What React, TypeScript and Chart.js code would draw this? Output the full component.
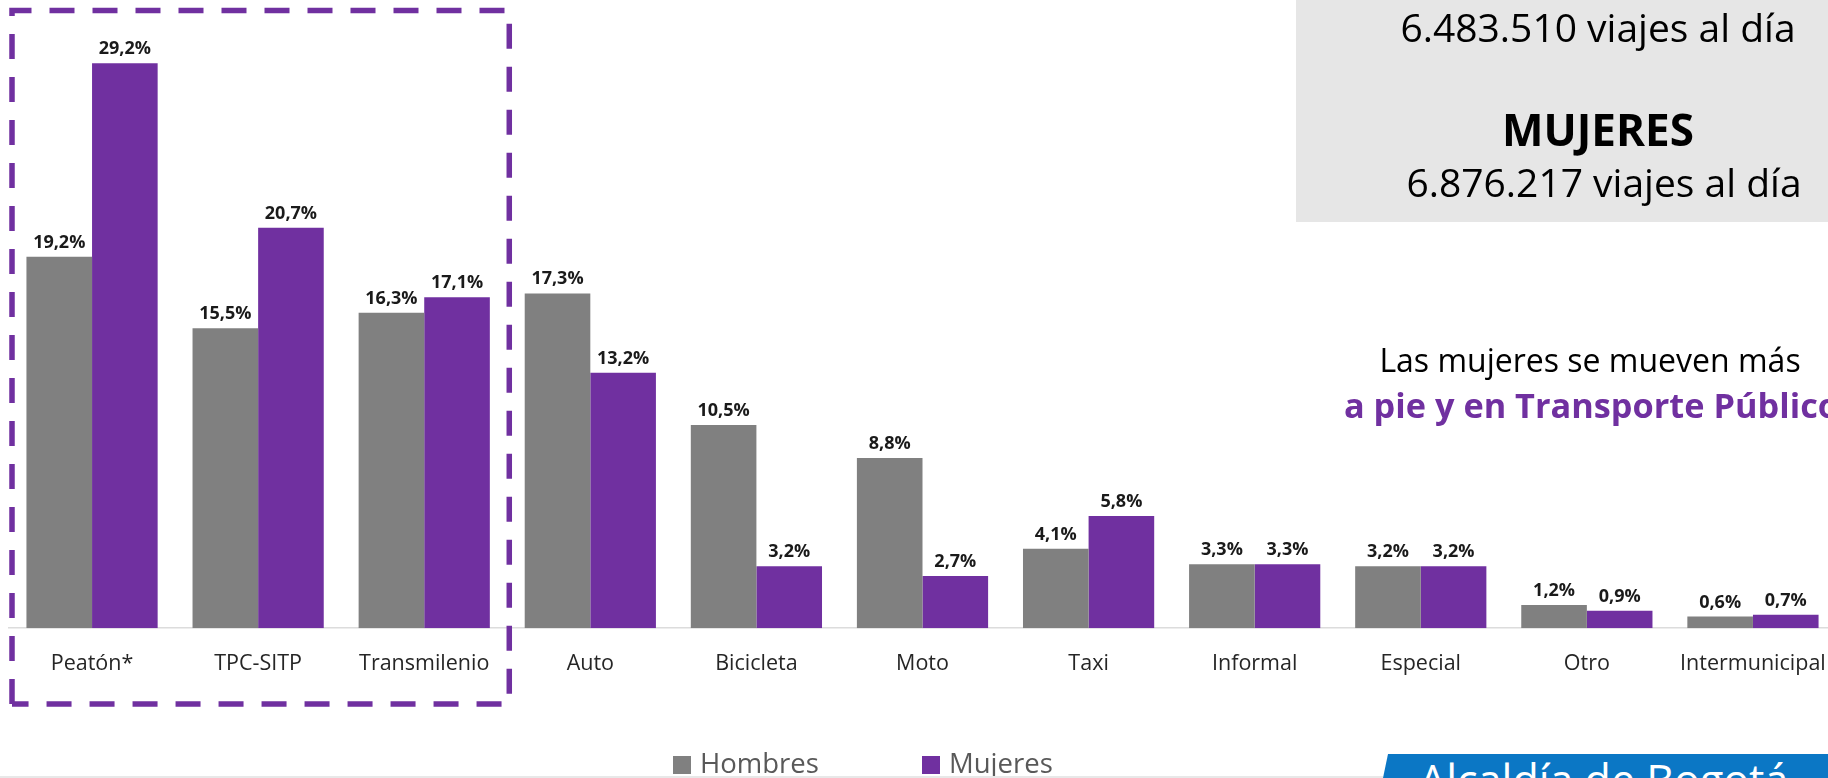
import React, { useEffect, useRef } from "react";
import { Chart, registerables } from "chart.js";

Chart.register(...registerables);

const categories = [
  "Peatón*",
  "TPC-SITP",
  "Transmilenio",
  "Auto",
  "Bicicleta",
  "Moto",
  "Taxi",
  "Informal",
  "Especial",
  "Otro",
  "Intermunicipal",
];
const hombres = [19.2, 15.5, 16.3, 17.3, 10.5, 8.8, 4.1, 3.3, 3.2, 1.2, 0.6];
const mujeres = [29.2, 20.7, 17.1, 13.2, 3.2, 2.7, 5.8, 3.3, 3.2, 0.9, 0.7];
const seriesNames = ["Hombres", "Mujeres"];
const seriesColors = ["#808080", "#7030a0"];

const FONT = "'Open Sans', 'Noto Sans', sans-serif";

const fmt = (v: number) => v.toFixed(1).replace(".", ",") + "%";

const valueLabels = {
  id: "valueLabels",
  afterDatasetsDraw(chart: any) {
    const ctx = chart.ctx;
    ctx.save();
    ctx.font = `bold 18px ${FONT}`;
    ctx.fillStyle = "#1a1a1a";
    ctx.textAlign = "center";
    ctx.textBaseline = "alphabetic";
    chart.data.datasets.forEach((ds: any, i: number) => {
      const meta = chart.getDatasetMeta(i);
      meta.data.forEach((el: any, j: number) => {
        ctx.fillText(fmt(ds.data[j]), el.x, el.y - 9);
      });
    });
    ctx.restore();
  },
};

const dashedBox = {
  id: "dashedBox",
  afterDraw(chart: any) {
    const x = chart.scales.x;
    const catW = x.getPixelForValue(1) - x.getPixelForValue(0);
    const left = x.getPixelForValue(0) - catW / 2 + 3;
    const right = x.getPixelForValue(2) + catW / 2 + 2;
    const top = 10.5;
    const bottom = 704;
    const ctx = chart.ctx;
    ctx.save();
    ctx.strokeStyle = "#7030a0";
    ctx.lineWidth = 5.5;
    ctx.setLineDash([25, 18]);
    ctx.beginPath();
    ctx.moveTo(left, bottom);
    ctx.lineTo(left, top);
    ctx.lineTo(right, top);
    ctx.lineTo(right, bottom);
    ctx.lineTo(left, bottom);
    ctx.stroke();
    ctx.restore();
  },
};

const abs = (o: any): React.CSSProperties => ({ position: "absolute", whiteSpace: "nowrap", ...o });

export default function App() {
  const ref = useRef<HTMLCanvasElement>(null);
  useEffect(() => {
    if (!ref.current) return;
    const chart = new Chart(ref.current, {
      type: "bar",
      data: {
        labels: categories,
        datasets: [
          {
            label: seriesNames[0],
            data: hombres,
            backgroundColor: seriesColors[0],
            categoryPercentage: 0.79,
            barPercentage: 1,
          },
          {
            label: seriesNames[1],
            data: mujeres,
            backgroundColor: seriesColors[1],
            categoryPercentage: 0.79,
            barPercentage: 1,
          },
        ],
      },
      options: {
        animation: false,
        responsive: false,
        devicePixelRatio: 1,
        layout: { padding: { left: 9, right: 4, top: 9, bottom: 98 } },
        plugins: {
          legend: { display: false },
          tooltip: { enabled: false },
        },
        scales: {
          x: {
            grid: { display: false, drawTicks: true, tickLength: 20 },
            border: { display: true, color: "#dcdcdc", width: 1.5 },
            ticks: {
              padding: 3,
              color: "#262626",
              font: { family: FONT, size: 21.5 },
              maxRotation: 0,
              autoSkip: false,
            },
          },
          y: {
            display: false,
            min: 0,
            max: 32,
          },
        },
      },
      plugins: [valueLabels, dashedBox],
    });
    return () => chart.destroy();
  }, []);

  return (
    <div
      style={{
        position: "fixed",
        left: 0,
        top: 0,
        width: 1828,
        height: 778,
        overflow: "hidden",
        background: "#ffffff",
        fontFamily: FONT,
      }}
    >
      <div style={abs({ left: 1296, top: 0, width: 532, height: 222, background: "#e6e6e6" })} />
      <canvas
        ref={ref}
        width={1840}
        height={778}
        style={{ position: "absolute", left: 0, top: 0, width: 1840, height: 778 }}
      />
      <div style={abs({ left: 1298, top: 7, width: 600, textAlign: "center", fontSize: 39, lineHeight: "39px", color: "#000" })}>
        6.483.510 viajes al día
      </div>
      <div style={abs({ left: 1298, top: 107, width: 600, textAlign: "center", fontSize: 44, lineHeight: "44px", fontWeight: 700, color: "#000" })}>
        MUJERES
      </div>
      <div style={abs({ left: 1304, top: 162.4, width: 600, textAlign: "center", fontSize: 39, lineHeight: "39px", color: "#000" })}>
        6.876.217 viajes al día
      </div>
      <div style={abs({ left: 1290, top: 343.6, width: 600, textAlign: "center", fontSize: 32, lineHeight: "32px", color: "#000" })}>
        Las mujeres se mueven más
      </div>
      <div style={abs({ left: 1344, top: 388, fontSize: 34.3, lineHeight: "34px", fontWeight: 700, color: "#7030a0" })}>
        a pie y en Transporte Público
      </div>

      <div style={abs({ left: 673, top: 756, width: 18, height: 18, background: seriesColors[0] })} />
      <div style={abs({ left: 700, top: 749, fontSize: 27.5, lineHeight: "27px", color: "#595959" })}>{seriesNames[0]}</div>
      <div style={abs({ left: 922, top: 756, width: 18, height: 18, background: seriesColors[1] })} />
      <div style={abs({ left: 949, top: 749, fontSize: 27.5, lineHeight: "27px", color: "#595959" })}>{seriesNames[1]}</div>

      <div
        style={abs({
          left: 1383,
          top: 754,
          width: 445,
          height: 24,
          background: "#0b77c5",
          overflow: "hidden",
          clipPath: "polygon(5px 0, 100% 0, 100% 100%, 0 100%)",
        })}
      >
        <div style={abs({ left: 36, top: 3.8, fontSize: 43, lineHeight: "43px", color: "#ffffff" })}>Alcaldía de Bogotá</div>
      </div>
      <div style={abs({ left: 0, top: 776, width: 1383, height: 2, background: "#e8e8e8" })} />
    </div>
  );
}
